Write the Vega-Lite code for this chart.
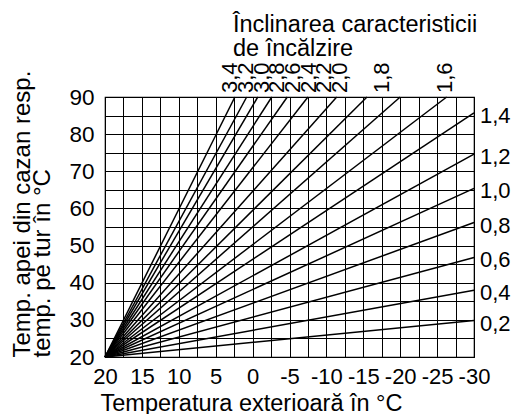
{
  "$schema": "https://vega.github.io/schema/vega-lite/v6.json",
  "autosize": {"type": "none"},
  "padding": {"left": 105, "top": 97, "right": 41, "bottom": 57},
  "width": 369,
  "height": 260,
  "background": "white",
  "config": {
    "font": "Liberation Sans",
    "view": {"stroke": "black", "strokeWidth": 1.2},
    "title": {"fontSize": 23.5, "fontWeight": "normal", "color": "black", "anchor": "start", "align": "left", "frame": "group", "lineHeight": 24, "offset": 2, "dx": 128}
  },
  "title": {
    "text": ["Înclinarea caracteristicii", "de încălzire"],
    "anchor": "start",
    "align": "left",
    "frame": "group",
    "dx": 128,
    "offset": 2,
    "fontSize": 23.5,
    "fontWeight": "normal",
    "lineHeight": 24,
    "color": "black"
  },
  "datasets": {
    "curves": [
      {"s": "0,2", "x": 20, "y": 20}, {"s": "0,2", "x": -30, "y": 29.8},
      {"s": "0,4", "x": 20, "y": 20}, {"s": "0,4", "x": -30, "y": 38},
      {"s": "0,6", "x": 20, "y": 20}, {"s": "0,6", "x": -30, "y": 46.8},
      {"s": "0,8", "x": 20, "y": 20}, {"s": "0,8", "x": -30, "y": 56.2},
      {"s": "1,0", "x": 20, "y": 20}, {"s": "1,0", "x": -30, "y": 65.4},
      {"s": "1,2", "x": 20, "y": 20}, {"s": "1,2", "x": -30, "y": 74.6},
      {"s": "1,4", "x": 20, "y": 20}, {"s": "1,4", "x": -30, "y": 85.7},
      {"s": "1,6", "x": 20, "y": 20}, {"s": "1,6", "x": -26.3, "y": 90},
      {"s": "1,8", "x": 20, "y": 20}, {"s": "1,8", "x": -20, "y": 90},
      {"s": "2,0", "x": 20, "y": 20}, {"s": "2,0", "x": -15.5, "y": 90},
      {"s": "2,2", "x": 20, "y": 20}, {"s": "2,2", "x": -11.4, "y": 90},
      {"s": "2,4", "x": 20, "y": 20}, {"s": "2,4", "x": -7.5, "y": 90},
      {"s": "2,6", "x": 20, "y": 20}, {"s": "2,6", "x": -4.7, "y": 90},
      {"s": "2,8", "x": 20, "y": 20}, {"s": "2,8", "x": -2.6, "y": 90},
      {"s": "3,0", "x": 20, "y": 20}, {"s": "3,0", "x": -0.7, "y": 90},
      {"s": "3,2", "x": 20, "y": 20}, {"s": "3,2", "x": 0.8, "y": 90},
      {"s": "3,4", "x": 20, "y": 20}, {"s": "3,4", "x": 2.4, "y": 90}
    ],
    "topLabels": [
      {"s": "3,4", "x": 3.1, "y": 90},
      {"s": "3,2", "x": 0.9, "y": 90},
      {"s": "3,0", "x": -1.3, "y": 90},
      {"s": "2,8", "x": -3.3, "y": 90},
      {"s": "2,6", "x": -5.5, "y": 90},
      {"s": "2,4", "x": -7.6, "y": 90},
      {"s": "2,2", "x": -9.7, "y": 90},
      {"s": "2,0", "x": -11.8, "y": 90},
      {"s": "1,8", "x": -17.5, "y": 90},
      {"s": "1,6", "x": -26.1, "y": 90}
    ],
    "rightLabels": [
      {"s": "1,4", "x": -30, "y": 85.7},
      {"s": "1,2", "x": -30, "y": 74.6},
      {"s": "1,0", "x": -30, "y": 65.4},
      {"s": "0,8", "x": -30, "y": 56.2},
      {"s": "0,6", "x": -30, "y": 46.8},
      {"s": "0,4", "x": -30, "y": 38},
      {"s": "0,2", "x": -30, "y": 29.8}
    ]
  },
  "encoding": {
    "x": {
      "field": "x",
      "type": "quantitative",
      "scale": {"domain": [-30, 20], "reverse": true, "nice": false, "zero": false},
      "axis": {
        "values": [20, 17.5, 15, 12.5, 10, 7.5, 5, 2.5, 0, -2.5, -5, -7.5, -10, -12.5, -15, -17.5, -20, -22.5, -25, -27.5, -30],
        "labelExpr": "datum.value % 5 === 0 ? '' + datum.value : ''",
        "grid": true,
        "gridColor": "black",
        "gridWidth": 1,
        "gridOpacity": 1,
        "ticks": false,
        "domain": false,
        "labelFontSize": 22,
        "labelColor": "black",
        "labelPadding": 9,
        "labelFlush": false,
        "labelOverlap": false,
        "title": "Temperatura exterioară în °C",
        "titleFontSize": 23.5,
        "titleFontWeight": "normal",
        "titleColor": "black",
        "titleAnchor": "start",
        "titleAlign": "left",
        "titleX": -5,
        "titlePadding": 4
      }
    },
    "y": {
      "field": "y",
      "type": "quantitative",
      "scale": {"domain": [20, 90], "nice": false, "zero": false},
      "axis": {
        "values": [20, 25, 30, 35, 40, 45, 50, 55, 60, 65, 70, 75, 80, 85, 90],
        "labelExpr": "datum.value % 10 === 0 ? '' + datum.value : ''",
        "grid": true,
        "gridColor": "black",
        "gridWidth": 1,
        "gridOpacity": 1,
        "ticks": false,
        "domain": false,
        "labelFontSize": 22.5,
        "labelColor": "black",
        "labelPadding": 11,
        "labelFlush": false,
        "labelOverlap": false,
        "title": ["Temp. apei din cazan resp.", "temp. pe tur în °C"],
        "titleFontSize": 24,
        "titleFontWeight": "normal",
        "titleColor": "black",
        "titleAnchor": "start",
        "titleLineHeight": 20,
        "titlePadding": 14
      }
    }
  },
  "layer": [
    {
      "data": {"name": "curves"},
      "mark": {"type": "line", "color": "black", "strokeWidth": 1.5},
      "encoding": {"detail": {"field": "s"}}
    },
    {
      "data": {"name": "topLabels"},
      "mark": {"type": "text", "angle": 270, "align": "left", "baseline": "middle", "dx": 4, "fontSize": 22, "color": "black"},
      "encoding": {"text": {"field": "s"}}
    },
    {
      "data": {"name": "rightLabels"},
      "mark": {"type": "text", "align": "left", "baseline": "middle", "dx": 6, "dy": 3, "fontSize": 22, "color": "black"},
      "encoding": {"text": {"field": "s"}}
    }
  ]
}
